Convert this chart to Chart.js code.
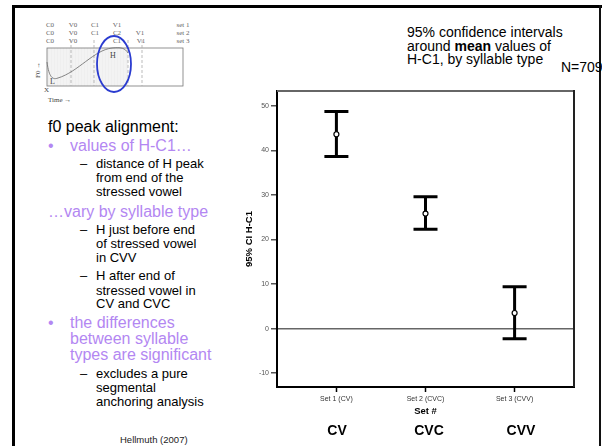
<!DOCTYPE html>
<html>
<head>
<meta charset="utf-8">
<script src="https://cdn.jsdelivr.net/npm/chart.js@4"></script>
<style>
    html, body { margin: 0; padding: 0; background: #fff; }
    body { width: 602px; height: 446px; position: relative; overflow: hidden; font-family: "Liberation Sans", Arial, sans-serif; }
    .abs { position: absolute; white-space: nowrap; }
    .main { font-size: 16px; line-height: 18px; color: #000; }
    .sub { font-size: 13px; line-height: 14px; color: #000; }
    .purple { color: #b387f2; }
    .title { font-size: 14px; line-height: 14px; color: #000; }
    .big { font-size: 14px; font-weight: bold; transform: translateX(-50%); }
    #chart-box { position: absolute; left: 232px; top: 84px; width: 370px; height: 362px; }
</style>
</head>
<body>

<!-- slide frame -->
<div class="abs" style="left:12px;top:5px;width:3px;height:441px;background:#000"></div>
<div class="abs" style="left:12px;top:5px;width:590px;height:3px;background:#000"></div>
<div class="abs" style="left:599px;top:5px;width:2px;height:441px;background:#111"></div>

<!-- small alignment diagram -->
<svg class="abs" style="left:0;top:0" width="200" height="110" viewBox="0 0 200 110">
    <defs>
        <pattern id="hatch" width="3" height="3" patternUnits="userSpaceOnUse">
            <rect width="3" height="3" fill="#f3f3f3"/>
            <line x1="0" y1="0" x2="0" y2="3" stroke="#e2e2e2" stroke-width="0.6"/>
        </pattern>
    </defs>
    <g font-family="'Liberation Serif', 'DejaVu Serif', serif" font-size="7" fill="#666" text-anchor="middle">
        <text x="50" y="27">C0</text><text x="73" y="27">V0</text><text x="95" y="27">C1</text><text x="117" y="27">V1</text><text x="183" y="27">set 1</text>
        <text x="50" y="35">C0</text><text x="73" y="35">V0</text><text x="95" y="35">C1</text><text x="117" y="35">C2</text><text x="140" y="35">V1</text><text x="183" y="35">set 2</text>
        <text x="50" y="43">C0</text><text x="73" y="43">V0</text><text x="117" y="43">C1</text><text x="141" y="43">V1</text><text x="183" y="43">set 3</text>
    </g>
    <rect x="47" y="48" width="81" height="38" fill="url(#hatch)"/>
    <rect x="47" y="48" width="136" height="38" fill="none" stroke="#777" stroke-width="0.8"/>
    <g stroke="#aaa" stroke-width="0.8" stroke-dasharray="3,2">
        <line x1="71" y1="40" x2="71" y2="86"/>
        <line x1="94" y1="40" x2="94" y2="86"/>
        <line x1="128" y1="40" x2="128" y2="86"/>
        <line x1="142" y1="40" x2="142" y2="86"/>
    </g>
    <path d="M47,62 C49,78 53,80 58,78 C78,72 94,50 112,48 C121,47 125,48 128,53" fill="none" stroke="#777" stroke-width="0.9"/>
    <g font-family="'Liberation Serif', serif" fill="#444" font-size="8">
        <text x="110" y="58">H</text>
        <text x="50" y="84">L</text>
        <text x="44" y="92" font-size="7">X</text>
        <text x="48" y="102" font-size="7">Time →</text>
        <text x="0" y="0" font-size="7" transform="translate(40,78) rotate(-90)">F0 →</text>
    </g>
    <ellipse cx="114" cy="64" rx="17" ry="28" fill="none" stroke="#2a3bd0" stroke-width="1.8"/>
</svg>

<!-- left text column -->
<div class="abs main" style="left:48px;top:118px">f0 peak alignment:</div>
<div class="abs main purple" style="left:48px;top:137px">•</div>
<div class="abs main purple" style="left:70px;top:137px">values of H-C1…</div>
<div class="abs sub" style="left:80px;top:157px">–</div>
<div class="abs sub" style="left:96px;top:157px">distance of H peak</div>
<div class="abs sub" style="left:96px;top:171px">from end of the</div>
<div class="abs sub" style="left:96px;top:185px">stressed vowel</div>
<div class="abs main purple" style="left:48px;top:203px">…vary by syllable type</div>
<div class="abs sub" style="left:80px;top:223px">–</div>
<div class="abs sub" style="left:96px;top:223px">H just before end</div>
<div class="abs sub" style="left:96px;top:237px">of stressed vowel</div>
<div class="abs sub" style="left:96px;top:251px">in CVV</div>
<div class="abs sub" style="left:80px;top:269px">–</div>
<div class="abs sub" style="left:96px;top:269px">H after end of</div>
<div class="abs sub" style="left:96px;top:284px">stressed vowel in</div>
<div class="abs sub" style="left:96px;top:297px">CV and CVC</div>
<div class="abs main purple" style="left:48px;top:314px">•</div>
<div class="abs main purple" style="left:70px;top:314px">the differences</div>
<div class="abs main purple" style="left:70px;top:330px">between syllable</div>
<div class="abs main purple" style="left:70px;top:346px">types are significant</div>
<div class="abs sub" style="left:80px;top:367px">–</div>
<div class="abs sub" style="left:96px;top:367px">excludes a pure</div>
<div class="abs sub" style="left:96px;top:381px">segmental</div>
<div class="abs sub" style="left:96px;top:395px">anchoring analysis</div>
<div class="abs" style="left:120px;top:434px;font-size:9.5px;color:#222">Hellmuth (2007)</div>

<!-- top right caption -->
<div class="abs title" style="left:407px;top:25px">95% confidence intervals</div>
<div class="abs title" style="left:407px;top:39px">around <b>mean</b> values of</div>
<div class="abs title" style="left:407px;top:52px">H-C1, by syllable type</div>
<div class="abs title" style="left:561px;top:60px">N=709</div>

<div id="chart-box"><canvas id="ciChart"></canvas></div>

<!-- syllable type labels -->
<div class="abs big" style="left:337px;top:422px">CV</div>
<div class="abs big" style="left:429px;top:422px">CVC</div>
<div class="abs big" style="left:521px;top:422px">CVV</div>

<script>
// Data
const categories = ['Set 1 (CV)', 'Set 2 (CVC)', 'Set 3 (CVV)'];
const syllableTypes = ['CV', 'CVC', 'CVV'];
const meanValues = [43.6, 25.8, 3.5];
const upperValues = [48.7, 29.6, 9.4];
const lowerValues = [38.6, 22.3, -2.3];
const yTicks = [-10, 0, 10, 20, 30, 40, 50];

const FONT = "'Liberation Sans', Arial, sans-serif";

// error bars drawn under the mean markers
const errorBars = {
    id: 'errorBars',
    beforeDatasetsDraw(chart) {
        const { ctx, scales: { x, y } } = chart;
        ctx.save();
        ctx.strokeStyle = '#000';
        ctx.lineWidth = 3;
        categories.forEach((c, i) => {
            const px = x.getPixelForValue(i + 1);
            const top = y.getPixelForValue(upperValues[i]);
            const bot = y.getPixelForValue(lowerValues[i]);
            ctx.beginPath();
            ctx.moveTo(px, top); ctx.lineTo(px, bot);
            ctx.moveTo(px - 12, top); ctx.lineTo(px + 12, top);
            ctx.moveTo(px - 12, bot); ctx.lineTo(px + 12, bot);
            ctx.stroke();
        });
        ctx.restore();
    }
};

// top and right edges of the plot frame
const frame = {
    id: 'frame',
    afterDraw(chart) {
        const { ctx, chartArea: a } = chart;
        ctx.save();
        ctx.lineWidth = 2;
        ctx.strokeStyle = '#666';
        ctx.beginPath();
        ctx.moveTo(a.left, a.top); ctx.lineTo(a.right, a.top);
        ctx.stroke();
        ctx.strokeStyle = '#222';
        ctx.beginPath();
        ctx.moveTo(a.right, a.top - 1); ctx.lineTo(a.right, a.bottom);
        ctx.stroke();
        ctx.restore();
    }
};

const ctx = document.getElementById('ciChart').getContext('2d');
new Chart(ctx, {
    type: 'scatter',
    data: {
        datasets: [{
            label: 'Mean H-C1',
            data: meanValues.map((v, i) => ({ x: i + 1, y: v })),
            pointRadius: 2.5,
            pointBorderWidth: 1.2,
            pointBorderColor: '#000',
            pointBackgroundColor: '#fff'
        }]
    },
    options: {
        responsive: true,
        maintainAspectRatio: false,
        animation: false,
        layout: { padding: { left: 0, top: 7, right: 28, bottom: 23 } },
        plugins: {
            legend: { display: false },
            tooltip: { enabled: false }
        },
        scales: {
            x: {
                type: 'linear',
                min: 1 / 3,
                max: 11 / 3,
                afterBuildTicks: (s) => { s.ticks = categories.map((c, i) => ({ value: i + 1 })); },
                afterFit: (s) => { s.height = 36; },
                ticks: {
                    autoSkip: false,
                    maxRotation: 0,
                    padding: 3,
                    color: '#333',
                    font: { family: FONT, size: 7 },
                    callback: (v) => categories[Math.round(v) - 1]
                },
                grid: { drawOnChartArea: false, tickLength: 5, tickColor: '#000', tickWidth: 1.5 },
                border: { color: '#000', width: 2 },
                title: {
                    display: true,
                    text: 'Set #',
                    color: '#000',
                    font: { family: FONT, size: 9.5, weight: 'bold' },
                    padding: { top: 0, bottom: 5.5 }
                }
            },
            y: {
                min: -13.1,
                max: 53.3,
                afterBuildTicks: (s) => { s.ticks = yTicks.map(v => ({ value: v })); },
                afterFit: (s) => { s.width = 45; },
                ticks: {
                    padding: 2,
                    color: '#555',
                    font: { family: FONT, size: 7 }
                },
                grid: {
                    drawOnChartArea: true,
                    tickLength: 6,
                    tickColor: '#555',
                    tickWidth: 1.5,
                    lineWidth: 1.5,
                    color: (c) => (c.tick && c.tick.value === 0 ? '#666' : 'rgba(0,0,0,0)')
                },
                border: { color: '#000', width: 2 },
                title: {
                    display: true,
                    text: '95% CI H-C1',
                    color: '#000',
                    font: { family: FONT, size: 9.5, weight: 'bold' },
                    padding: { top: 12, bottom: 0 }
                }
            }
        }
    },
    plugins: [errorBars, frame]
});
</script>
</body>
</html>
